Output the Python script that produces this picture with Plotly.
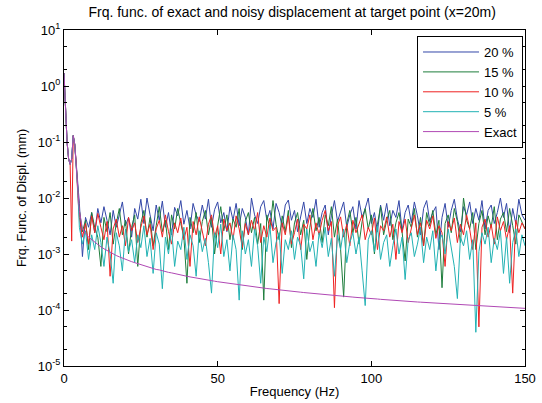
import plotly.graph_objects as go

# Frequency grid (Hz)
freq_low = [0, 0.5, 1, 1.5, 2, 2.5, 3, 3.5, 4, 4.5]
freq = freq_low + list(range(5, 151))

# Exact response (mm)
exact_low = [1.7, 0.35, 0.1, 0.05, 0.04, 0.05, 0.13, 0.09, 0.04, 0.015]
exact_hi = [
    6.0e-3, 2.8e-3, 2.3e-3, 2.0e-3, 1.8e-3, 1.6e-3, 1.46e-3, 1.34e-3, 1.24e-3, 1.15e-3,
    1.07e-3, 1.0e-3, 9.4e-4, 8.9e-4, 8.4e-4, 8.0e-4, 7.6e-4, 7.3e-4, 7.0e-4, 6.7e-4,
    6.4e-4, 6.2e-4, 5.9e-4, 5.7e-4, 5.5e-4, 5.3e-4, 5.2e-4, 5.0e-4, 4.85e-4, 4.7e-4,
    4.6e-4, 4.45e-4, 4.3e-4, 4.2e-4, 4.1e-4, 4.0e-4, 3.9e-4, 3.8e-4, 3.72e-4, 3.64e-4,
    3.56e-4, 3.48e-4, 3.4e-4, 3.33e-4, 3.27e-4, 3.2e-4, 3.14e-4, 3.08e-4, 3.02e-4, 2.96e-4,
    2.91e-4, 2.86e-4, 2.81e-4, 2.76e-4, 2.71e-4, 2.67e-4, 2.62e-4, 2.58e-4, 2.54e-4, 2.5e-4,
    2.46e-4, 2.42e-4, 2.39e-4, 2.35e-4, 2.32e-4, 2.29e-4, 2.25e-4, 2.22e-4, 2.19e-4, 2.16e-4,
    2.13e-4, 2.1e-4, 2.08e-4, 2.05e-4, 2.03e-4, 2.0e-4, 1.98e-4, 1.95e-4, 1.93e-4, 1.9e-4,
    1.88e-4, 1.86e-4, 1.84e-4, 1.82e-4, 1.8e-4, 1.78e-4, 1.76e-4, 1.74e-4, 1.72e-4, 1.7e-4,
    1.68e-4, 1.67e-4, 1.65e-4, 1.63e-4, 1.62e-4, 1.6e-4, 1.58e-4, 1.57e-4, 1.55e-4, 1.54e-4,
    1.52e-4, 1.51e-4, 1.5e-4, 1.48e-4, 1.47e-4, 1.45e-4, 1.44e-4, 1.43e-4, 1.42e-4, 1.4e-4,
    1.39e-4, 1.38e-4, 1.37e-4, 1.36e-4, 1.34e-4, 1.33e-4, 1.32e-4, 1.31e-4, 1.3e-4, 1.29e-4,
    1.28e-4, 1.27e-4, 1.26e-4, 1.25e-4, 1.24e-4, 1.23e-4, 1.22e-4, 1.21e-4, 1.2e-4, 1.19e-4,
    1.185e-4, 1.18e-4, 1.17e-4, 1.16e-4, 1.15e-4, 1.14e-4, 1.135e-4, 1.13e-4, 1.12e-4, 1.11e-4,
    1.105e-4, 1.1e-4, 1.095e-4, 1.09e-4, 1.08e-4, 1.07e-4,
]
exact = exact_low + exact_hi

# Noisy responses (mm)
noisy20_low = [1.7, 0.35, 0.1, 0.05, 0.04, 0.05, 0.13, 0.09, 0.04, 0.015]
noisy20_hi = [
    8.0e-3, 9.0e-4, 4.5e-3, 3.0e-3, 5.5e-3, 2.4e-3, 6.5e-3, 3.6e-3, 7.0e-3, 4.0e-3,
    2.2e-3, 6.0e-3, 3.0e-3, 5.0e-3, 8.5e-3, 3.2e-3, 4.5e-3, 2.0e-3, 6.5e-3, 4.2e-3,
    9.5e-3, 3.5e-3, 1.0e-2, 5.0e-3, 2.6e-3, 7.5e-3, 4.0e-3, 8.8e-3, 3.0e-3, 5.5e-3,
    2.2e-3, 6.8e-3, 4.8e-3, 9.0e-3, 3.4e-3, 6.0e-3, 2.8e-3, 8.0e-3, 5.0e-3, 3.8e-3,
    7.5e-3, 4.2e-3, 9.5e-3, 3.0e-3, 6.2e-3, 8.5e-3, 3.6e-3, 5.5e-3, 2.5e-3, 7.0e-3,
    4.0e-3, 8.0e-3, 3.2e-3, 6.5e-3, 4.5e-3, 2.2e-3, 1.0e-2, 5.0e-3, 3.5e-3, 7.0e-3,
    9.0e-3, 4.0e-3, 6.0e-3, 2.8e-3, 8.0e-3, 5.5e-3, 3.0e-3, 7.5e-3, 9.2e-3, 4.0e-3,
    6.0e-3, 2.5e-3, 5.0e-3, 8.5e-3, 3.5e-3, 6.5e-3, 4.5e-3, 9.5e-3, 3.0e-3, 5.5e-3,
    7.5e-3, 2.2e-3, 4.8e-3, 9.0e-3, 3.8e-3, 6.0e-3, 8.5e-3, 3.0e-3, 5.0e-3, 7.0e-3,
    2.8e-3, 9.0e-3, 4.5e-3, 6.5e-3, 1.0e-2, 3.5e-3, 5.5e-3, 2.5e-3, 7.5e-3, 4.0e-3,
    8.0e-3, 3.2e-3, 6.0e-3, 4.5e-3, 9.0e-3, 2.6e-3, 5.5e-3, 7.5e-3, 3.6e-3, 8.5e-3,
    4.8e-3, 2.2e-3, 6.5e-3, 9.0e-3, 3.8e-3, 5.5e-3, 7.0e-3, 1.2e-3, 4.5e-3, 8.0e-3,
    3.0e-3, 6.0e-3, 9.5e-3, 4.2e-3, 2.5e-3, 7.0e-3, 5.0e-3, 8.5e-3, 3.5e-3, 6.5e-3,
    4.0e-3, 9.0e-3, 2.8e-3, 6.0e-3, 7.5e-3, 3.5e-3, 5.5e-3, 1.0e-2, 4.5e-3, 8.0e-3,
    2.4e-3, 6.5e-3, 3.5e-3, 9.5e-3, 5.0e-3, 4.0e-3,
]
noisy20 = noisy20_low + noisy20_hi

noisy15_low = [1.7, 0.35, 0.1, 0.05, 0.04, 0.05, 0.13, 0.09, 0.04, 0.012]
noisy15_hi = [
    6.0e-3, 2.5e-3, 4.0e-3, 1.2e-3, 5.5e-3, 3.0e-3, 2.0e-3, 6.0e-4, 4.5e-3, 2.5e-3,
    5.5e-3, 1.5e-3, 3.5e-3, 6.5e-3, 2.2e-3, 4.0e-3, 1.0e-3, 3.0e-3, 5.0e-3, 6.0e-4,
    3.5e-3, 6.0e-3, 2.0e-3, 4.5e-3, 1.4e-3, 3.2e-3, 7.0e-3, 2.5e-3, 4.0e-3, 1.2e-3,
    5.0e-3, 2.8e-3, 6.5e-3, 3.5e-3, 2.0e-3, 3.0e-4, 4.5e-3, 2.4e-3, 5.5e-3, 1.6e-3,
    3.8e-3, 6.0e-3, 2.2e-3, 4.5e-3, 1.0e-3, 3.2e-3, 7.0e-3, 2.6e-3, 5.0e-3, 1.8e-3,
    4.2e-3, 3.0e-3, 6.5e-3, 1.2e-3, 3.8e-3, 5.5e-3, 2.4e-3, 4.5e-3, 1.5e-3, 3.5e-3,
    1.5e-4, 5.0e-3, 2.8e-3, 9.0e-3, 3.4e-3, 1.8e-3, 4.8e-3, 2.5e-3, 6.0e-3, 1.3e-3,
    3.6e-3, 5.5e-3, 2.2e-3, 4.0e-3, 8.0e-4, 3.0e-3, 6.5e-3, 2.6e-3, 4.5e-3, 1.6e-3,
    5.0e-3, 3.2e-3, 7.0e-3, 2.0e-3, 4.2e-3, 1.2e-3, 1.7e-4, 3.5e-3, 6.0e-3, 2.4e-3,
    4.5e-3, 1.5e-3, 3.8e-3, 6.5e-3, 2.8e-3, 5.0e-3, 1.0e-3, 3.4e-3, 7.0e-3, 2.2e-3,
    4.0e-3, 6.0e-3, 1.8e-3, 3.6e-3, 5.5e-3, 2.5e-3, 7.5e-4, 4.2e-3, 3.0e-3, 6.5e-3,
    2.0e-3, 4.5e-3, 1.4e-3, 5.5e-3, 3.2e-3, 6.0e-3, 2.2e-3, 4.0e-3, 2.5e-4, 3.5e-3,
    5.0e-3, 2.4e-3, 6.5e-3, 3.8e-3, 1.6e-3, 1.0e-2, 4.0e-3, 2.8e-3, 5.5e-3, 1.2e-3,
    3.5e-3, 6.0e-3, 2.2e-3, 4.8e-3, 3.0e-3, 7.0e-3, 1.8e-3, 4.2e-3, 5.5e-3, 2.5e-3,
    6.5e-3, 3.2e-3, 1.5e-3, 5.0e-3, 3.6e-3, 2.8e-3,
]
noisy15 = noisy15_low + noisy15_hi

noisy10_low = [1.7, 0.35, 0.1, 0.05, 0.04, 1.7e-3, 0.13, 0.09, 0.04, 0.011]
noisy10_hi = [
    4.5e-3, 2.0e-3, 3.5e-3, 1.5e-3, 4.8e-3, 2.4e-3, 5.3e-3, 3.0e-3, 1.8e-3, 3.8e-3,
    4.0e-4, 2.8e-3, 4.2e-3, 2.0e-3, 3.2e-3, 1.4e-3, 4.5e-3, 2.6e-3, 3.6e-3, 1.6e-3,
    3.0e-3, 4.8e-3, 2.2e-3, 3.4e-3, 1.2e-3, 2.8e-3, 4.0e-3, 2.0e-3, 5.0e-3, 2.5e-3,
    1.5e-3, 3.6e-3, 2.4e-3, 4.4e-3, 1.8e-3, 3.0e-3, 6.0e-4, 3.8e-3, 2.2e-3, 4.6e-3,
    2.6e-3, 1.4e-3, 3.4e-3, 5.0e-3, 2.0e-3, 3.2e-3, 1.0e-3, 4.2e-3, 2.6e-3, 3.6e-3,
    1.8e-3, 4.8e-3, 2.8e-3, 1.3e-3, 3.5e-3, 2.2e-3, 4.0e-3, 2.6e-3, 5.5e-3, 1.6e-3,
    3.2e-3, 2.0e-3, 4.4e-3, 2.6e-3, 3.0e-3, 1.3e-4, 3.6e-3, 2.2e-3, 4.8e-3, 1.5e-3,
    2.4e-3, 4.2e-3, 1.2e-3, 3.4e-3, 2.8e-3, 5.0e-3, 1.8e-3, 3.6e-3, 2.2e-3, 4.0e-3,
    6.0e-3, 2.6e-3, 3.8e-3, 1.1e-4, 3.2e-3, 4.6e-3, 2.0e-3, 3.4e-3, 1.4e-3, 4.0e-3,
    2.4e-3, 3.6e-3, 5.0e-3, 1.8e-3, 3.0e-3, 2.2e-3, 4.4e-3, 1.2e-3, 3.2e-3, 2.6e-3,
    4.6e-3, 2.0e-3, 3.4e-3, 8.0e-4, 3.8e-3, 2.4e-3, 4.2e-3, 1.6e-3, 3.0e-3, 5.0e-3,
    2.2e-3, 3.6e-3, 1.4e-3, 4.0e-3, 2.8e-3, 4.8e-3, 1.9e-3, 3.2e-3, 2.4e-3, 6.0e-4,
    3.8e-3, 2.6e-3, 4.4e-3, 1.6e-3, 3.4e-3, 2.2e-3, 5.0e-3, 2.8e-3, 1.2e-3, 3.6e-3,
    5.0e-5, 3.0e-3, 4.2e-3, 2.0e-3, 3.4e-3, 1.5e-3, 4.6e-3, 2.6e-3, 3.8e-3, 1.8e-3,
    3.2e-3, 2.0e-4, 4.0e-3, 2.4e-3, 3.6e-3, 2.8e-3,
]
noisy10 = noisy10_low + noisy10_hi

noisy5_low = [1.7, 0.35, 0.1, 0.05, 0.04, 0.05, 0.13, 0.09, 0.04, 0.013]
noisy5_hi = [
    3.0e-3, 1.5e-3, 2.6e-3, 8.0e-4, 2.2e-3, 1.2e-3, 3.2e-3, 1.6e-3, 6.0e-4, 2.0e-3,
    1.0e-3, 3.0e-4, 2.4e-3, 1.4e-3, 5.0e-4, 2.8e-3, 1.1e-3, 1.8e-3, 7.0e-4, 2.2e-3,
    1.3e-3, 3.2e-3, 9.0e-4, 1.9e-3, 4.5e-4, 2.4e-3, 1.5e-3, 2.4e-4, 2.0e-3, 1.0e-3,
    2.8e-3, 6.0e-4, 1.7e-3, 1.2e-3, 3.0e-3, 8.0e-4, 2.2e-3, 1.4e-3, 4.0e-4, 2.6e-3,
    1.1e-3, 1.9e-3, 7.0e-4, 2.0e-4, 2.4e-3, 1.3e-3, 3.4e-3, 9.0e-4, 1.8e-3, 5.0e-4,
    2.2e-3, 1.2e-3, 1.5e-4, 2.6e-3, 1.0e-3, 1.8e-3, 6.0e-4, 2.8e-3, 1.4e-3, 3.0e-4,
    2.0e-3, 1.1e-3, 3.2e-3, 7.0e-4, 1.6e-3, 2.4e-3, 4.5e-4, 1.8e-3, 1.2e-3, 2.6e-3,
    8.0e-4, 2.0e-3, 1.4e-3, 3.6e-4, 2.8e-3, 1.1e-3, 1.7e-3, 6.0e-4, 2.4e-3, 1.3e-3,
    3.0e-3, 9.0e-4, 1.9e-3, 4.0e-4, 2.2e-3, 1.2e-3, 2.8e-3, 7.0e-4, 1.6e-3, 2.4e-3,
    1.0e-3, 2.0e-3, 5.0e-4, 1.2e-4, 1.8e-3, 2.6e-3, 1.1e-3, 3.2e-3, 8.0e-4, 1.6e-3,
    2.2e-3, 6.0e-4, 1.4e-3, 2.8e-3, 1.0e-3, 2.0e-3, 3.5e-4, 1.8e-3, 2.4e-3, 9.0e-4,
    1.5e-3, 3.0e-3, 7.0e-4, 2.0e-3, 1.2e-3, 2.6e-3, 5.0e-4, 1.7e-3, 2.2e-3, 1.0e-3,
    2.8e-3, 1.3e-3, 6.0e-4, 1.6e-4, 2.0e-3, 1.4e-3, 2.6e-3, 8.0e-4, 1.8e-3, 4.0e-5,
    1.1e-3, 2.4e-3, 1.5e-3, 3.0e-3, 7.0e-4, 1.9e-3, 1.2e-3, 2.6e-3, 4.5e-4, 2.0e-3,
    3.0e-4, 1.6e-3, 2.8e-3, 9.0e-4, 2.2e-3, 1.4e-3,
]
noisy5 = noisy5_low + noisy5_hi

series_names = ["20 %", "15 %", "10 %", "5 %", "Exact"]
series_values = [noisy20, noisy15, noisy10, noisy5, exact]
series_colors = ["#3347a8", "#1e7d3c", "#ee2222", "#22b2b4", "#b048b4"]

# Axis ticks
x_ticks = [0, 50, 100, 150]
y_tick_vals = [1e-5, 1e-4, 1e-3, 1e-2, 1e-1, 1e0, 1e1]
y_tick_text = ["10<sup>-5</sup>", "10<sup>-4</sup>", "10<sup>-3</sup>", "10<sup>-2</sup>",
               "10<sup>-1</sup>", "10<sup>0</sup>", "10<sup>1</sup>"]

fig = go.Figure()
for name, vals, col in zip(series_names, series_values, series_colors):
    fig.add_trace(go.Scatter(x=freq, y=vals, mode="lines", name=name,
                             line=dict(color=col, width=1)))

font_family = "Liberation Sans, Arial, sans-serif"
fig.update_layout(
    width=542, height=403,
    margin=dict(l=64, r=17, t=30, b=37, autoexpand=False),
    paper_bgcolor="white", plot_bgcolor="white",
    font=dict(family=font_family, size=13, color="black"),
    title=dict(text="Frq. func. of exact and noisy displacement at target point (x=20m)",
               x=0.539, xanchor="center", y=0.97, yanchor="middle",
               font=dict(size=14, color="black")),
    showlegend=True,
    legend=dict(x=0.9957, xanchor="right", y=0.982, yanchor="top",
                bgcolor="white", bordercolor="black", borderwidth=1,
                font=dict(size=13, color="black"),
                tracegroupgap=0, itemwidth=56),
)
fig.update_xaxes(
    range=[0, 150], tickvals=x_ticks, automargin=False,
    showline=True, linecolor="black", linewidth=1, mirror="ticks",
    ticks="inside", ticklen=5, tickcolor="black",
    showgrid=False, zeroline=False,
    title=dict(text="Frequency (Hz)", standoff=2, font=dict(size=13)),
    tickfont=dict(size=13),
)
fig.update_yaxes(
    type="log", range=[-5, 1], tickvals=y_tick_vals, ticktext=y_tick_text,
    automargin=False,
    showline=True, linecolor="black", linewidth=1, mirror="ticks",
    ticks="inside", ticklen=5, tickcolor="black",
    minor=dict(ticks="inside", ticklen=3, tickcolor="black", showgrid=False),
    showgrid=False, zeroline=False,
    title=dict(text="Frq. Func. of Displ. (mm)", standoff=8, font=dict(size=12.5)),
    tickfont=dict(size=13),
)

fig.write_html("out.html", config={"displayModeBar": False},
               post_script="document.body.style.margin='0';")
